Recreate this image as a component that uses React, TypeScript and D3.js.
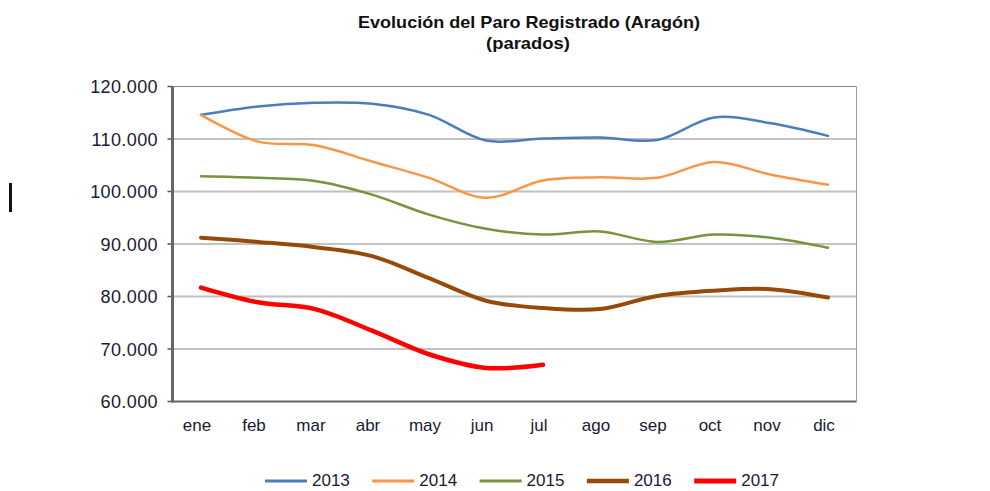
import React from "react";
import * as d3 from "d3";

const months = ["ene", "feb", "mar", "abr", "may", "jun", "jul", "ago", "sep", "oct", "nov", "dic"];
const years = ["2013", "2014", "2015", "2016", "2017"];
const s2013 = [114600, 116200, 116900, 116700, 114600, 109700, 110100, 110300, 109800, 114100, 113000, 110600];
const s2014 = [114600, 109500, 108800, 105700, 102600, 98800, 102100, 102700, 102600, 105600, 103200, 101300];
const s2015 = [102900, 102600, 102000, 99400, 95600, 92900, 91800, 92400, 90400, 91800, 91200, 89300];
const s2016 = [91200, 90400, 89400, 87700, 83500, 79200, 77800, 77600, 80100, 81100, 81400, 79800];
const s2017 = [81700, 78900, 77600, 73500, 69000, 66400, 67000];
const yTicks = [60000, 70000, 80000, 90000, 100000, 110000, 120000];
const tickLabels = ["60.000", "70.000", "80.000", "90.000", "100.000", "110.000", "120.000"];
const colors = ["#4A7EBB", "#F79646", "#77933C", "#984807", "#FF0000"];
const widths = [2.5, 2.5, 2.5, 4, 4.5];
const seriesList = [s2013, s2014, s2015, s2016, s2017];

export default function App() {
  const left = 172.5, right = 856.5, top = 86.5, bottom = 401.5;
  const x = d3.scaleBand<string>().domain(months).range([left, right]);
  const y = d3.scaleLinear().domain([60000, 120000]).range([bottom, top]);
  const cx = (m: string) => (x(m) as number) + x.bandwidth() / 2;
  const line = d3
    .line<number>()
    .x((_, i) => cx(months[i]))
    .y((d) => y(d))
    .curve(d3.curveCatmullRom.alpha(0.5));
  const fontFam = "'Liberation Sans', Arial, sans-serif";
  const textColor = "#1a1a33";
  return (
    <svg width={990} height={491} style={{ position: "absolute", left: 0, top: 0 }}>
      <rect x={0} y={0} width={990} height={491} fill="#fff" />
      <text x={529} y={28} textAnchor="middle" fontFamily={fontFam} fontWeight="bold" fontSize={16.5} fill="#111" textLength={342} lengthAdjust="spacingAndGlyphs">
        Evolución del Paro Registrado (Aragón)
      </text>
      <text x={528} y={49} textAnchor="middle" fontFamily={fontFam} fontWeight="bold" fontSize={17} fill="#111" textLength={84} lengthAdjust="spacingAndGlyphs">
        (parados)
      </text>
      <rect x={9} y={183} width={3} height={29} fill="#111" />
      {yTicks.map((t, i) => {
        const light = t === 100000 || t === 80000;
        return (
          <g key={t}>
            {t !== 60000 && (
              <line x1={left} x2={right} y1={y(t)} y2={y(t)} stroke={light ? "#c0c0c0" : "#858585"} strokeWidth={light ? 2 : 1} />
            )}
            <line x1={left - 5} x2={left} y1={y(t)} y2={y(t)} stroke="#555" strokeWidth={1.5} />
            <text x={158} y={y(t) + 6.5} textAnchor="end" fontFamily={fontFam} fontSize={18} fill={textColor} letterSpacing={0.4}>
              {tickLabels[i]}
            </text>
          </g>
        );
      })}
      <line x1={right} x2={right} y1={top} y2={bottom} stroke="#a0a0a0" strokeWidth={1} />
      <line x1={left} x2={right} y1={bottom} y2={bottom} stroke="#666" strokeWidth={2} />
      <line x1={left} x2={left} y1={top} y2={bottom + 1} stroke="#666" strokeWidth={3} />
      {months.map((m) => (
        <text key={m} x={cx(m) - 4} y={431} textAnchor="middle" fontFamily={fontFam} fontSize={17} fill={textColor}>
          {m}
        </text>
      ))}
      {seriesList.map((s, i) => (
        <path key={years[i]} d={line(s) || ""} fill="none" stroke={colors[i]} strokeWidth={widths[i]} strokeLinecap="round" strokeLinejoin="round" />
      ))}
      {years.map((yr, i) => {
        const lx = 265 + i * 107.3;
        return (
          <g key={yr}>
            <line x1={lx} x2={lx + 42} y1={481} y2={481} stroke={colors[i]} strokeWidth={widths[i] + 0.5} />
            <text x={lx + 47} y={486} fontFamily={fontFam} fontSize={17} fill={textColor}>
              {yr}
            </text>
          </g>
        );
      })}
    </svg>
  );
}
